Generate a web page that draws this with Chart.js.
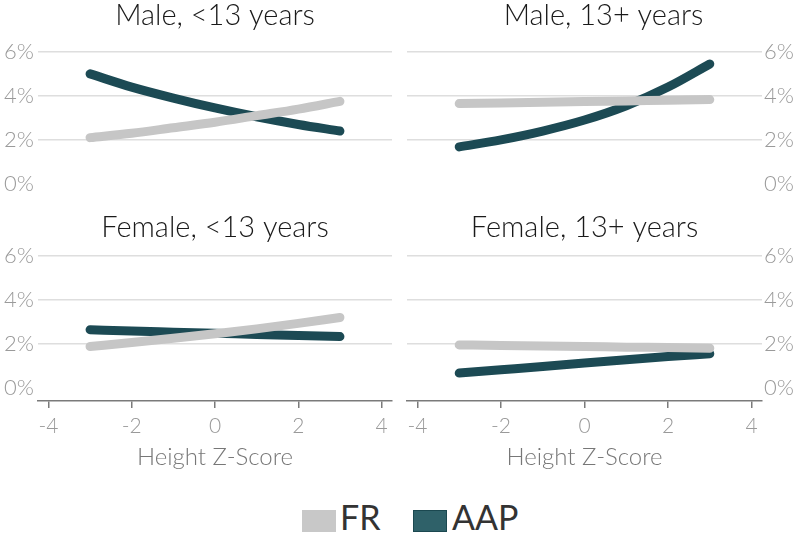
<!DOCTYPE html>
<html>
<head>
<meta charset="utf-8">
<script src="https://cdn.jsdelivr.net/npm/chart.js@4"></script>
<style>
  body { margin: 0; background: #fff; font-family: Lato, sans-serif; }
  #wrap { position: relative; width: 800px; height: 533px; overflow: hidden; }
  canvas { position: absolute; }
  .swatch { position: absolute; width: 34px; height: 22px; box-sizing: border-box; }
  .legend-text { position: absolute; font-size: 34px; line-height: 34px; color: #333; }
</style>
</head>
<body>
<div id="wrap">
  <canvas id="maleYoung" width="400" height="200" style="left:0;top:0"></canvas>
  <canvas id="maleOld" width="400" height="200" style="left:400px;top:0"></canvas>
  <canvas id="femaleYoung" width="400" height="275" style="left:0;top:200px"></canvas>
  <canvas id="femaleOld" width="400" height="275" style="left:400px;top:200px"></canvas>

  <div class="swatch" style="left:302px;top:510px;background:#c8c8c8"></div>
  <div class="legend-text" style="left:340px;top:500px">FR</div>
  <div class="swatch" style="left:413px;top:510px;background:#2f6169;border:1px solid #1b4850"></div>
  <div class="legend-text" style="left:452px;top:500px">AAP</div>
</div>

<script>
const zScores = [-3, -2, -1, 0, 1, 2, 3];
const xTicks = [-4, -2, 0, 2, 4];
const yTicks = [0, 2, 4, 6];

const maleYoungFR = [2.1, 2.3, 2.55, 2.8, 3.1, 3.4, 3.75];
const maleYoungAAP = [5.0, 4.4, 3.9, 3.45, 3.05, 2.7, 2.4];
const maleOldFR = [3.65, 3.68, 3.71, 3.74, 3.77, 3.8, 3.83];
const maleOldAAP = [1.68, 2.0, 2.4, 2.9, 3.55, 4.4, 5.45];
const femaleYoungFR = [1.88, 2.06, 2.25, 2.46, 2.68, 2.93, 3.2];
const femaleYoungAAP = [2.64, 2.58, 2.53, 2.48, 2.43, 2.38, 2.33];
const femaleOldFR = [1.95, 1.93, 1.9, 1.88, 1.85, 1.83, 1.8];
const femaleOldAAP = [0.67, 0.82, 0.97, 1.13, 1.28, 1.42, 1.55];

const FR_COLOR = "#c6c6c6";
const AAP_COLOR = "#1c4a54";

function points(values) {
  return zScores.map((z, i) => ({ x: z, y: values[i] }));
}

function makePanel(id, title, fr, aap, opts) {
  const right = opts.side === "right";
  const bottom = opts.bottom;

  return new Chart(document.getElementById(id), {
    type: "line",
    data: {
      datasets: [
        { label: "FR", data: points(fr), borderColor: FR_COLOR },
        { label: "AAP", data: points(aap), borderColor: AAP_COLOR },
      ],
    },
    options: {
      responsive: false,
      animation: false,
      devicePixelRatio: 1,
      layout: {
        padding: {
          left: right ? 7 : 0,
          right: right ? 0 : 8,
          top: 0,
          bottom: bottom ? 0 : 3,
        },
      },
      elements: {
        point: { radius: 0 },
        line: {
          borderWidth: 9,
          borderCapStyle: "round",
          borderJoinStyle: "round",
          tension: 0.4,
          cubicInterpolationMode: "monotone",
        },
      },
      plugins: {
        legend: { display: false },
        tooltip: { enabled: false },
        title: {
          display: true,
          text: title,
          fullSize: opts.fullTitle || false,
          color: "#1a1a1a",
          font: { family: "Lato", size: 29, weight: "300", lineHeight: 1.1 },
          padding: bottom ? { top: 12, bottom: 12 } : { top: 0, bottom: 20 },
        },
      },
      scales: {
        x: {
          type: "linear",
          display: bottom,
          min: -4.25,
          max: 4.25,
          afterBuildTicks: (s) => { s.ticks = xTicks.map((v) => ({ value: v })); },
          afterFit: (s) => {
            if (bottom) s.height = 74;
            s.paddingLeft = 0;
            s.paddingRight = 0;
          },
          border: { display: true, color: "#7a7a7a", width: 1.5 },
          grid: { drawOnChartArea: false, drawTicks: true, tickLength: 7, color: "#7a7a7a", lineWidth: 1.5 },
          ticks: {
            color: "#999",
            padding: 6,
            font: { family: "Lato", size: 21, weight: "300" },
          },
          title: {
            display: true,
            text: "Height Z-Score",
            color: "#777",
            font: { family: "Lato", size: 24, weight: "300" },
            padding: { top: 4, bottom: 3 },
          },
        },
        y: {
          position: right ? "right" : "left",
          min: -0.6,
          max: 6,
          afterBuildTicks: (s) => { s.ticks = yTicks.map((v) => ({ value: v })); },
          afterFit: (s) => { s.width = 38; s.paddingTop = 0; s.paddingBottom = 0; },
          border: { display: false },
          grid: {
            drawTicks: false,
            lineWidth: 1.5,
            color: (ctx) => (ctx.tick && ctx.tick.value === 0 ? "rgba(0,0,0,0)" : "#dedede"),
          },
          ticks: {
            autoSkip: false,
            color: "#9a9a9a",
            padding: right ? 2 : 4,
            font: { family: "Lato", size: 22, weight: "300" },
            callback: (v) => v + "%",
          },
        },
      },
    },
  });
}

makePanel("maleYoung", "Male, <13 years", maleYoungFR, maleYoungAAP, { side: "left", bottom: false });
makePanel("maleOld", "Male, 13+ years", maleOldFR, maleOldAAP, { side: "right", bottom: false, fullTitle: true });
makePanel("femaleYoung", "Female, <13 years", femaleYoungFR, femaleYoungAAP, { side: "left", bottom: true });
makePanel("femaleOld", "Female, 13+ years", femaleOldFR, femaleOldAAP, { side: "right", bottom: true });
</script>
</body>
</html>
